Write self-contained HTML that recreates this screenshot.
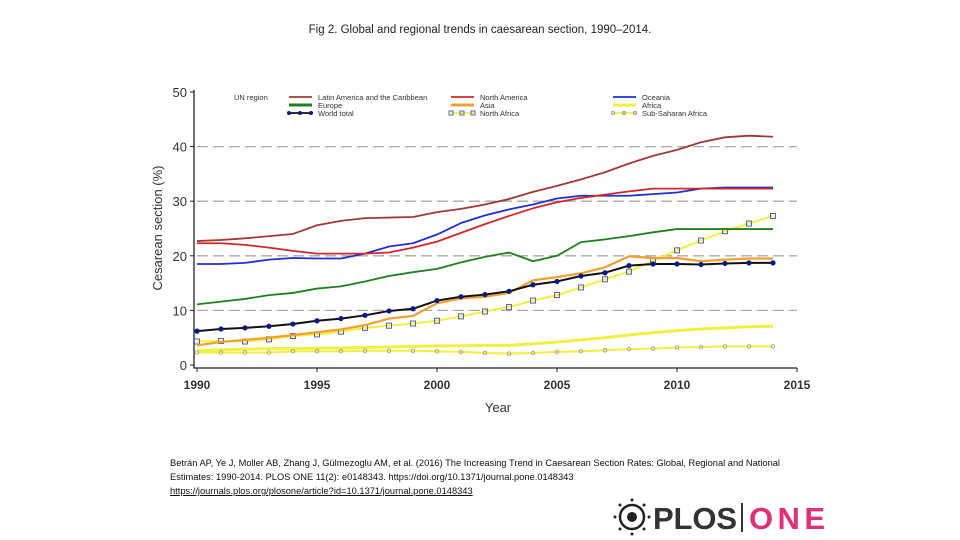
<!DOCTYPE html>
<html><head><meta charset="utf-8"><style>
body{margin:0;background:#fff;width:960px;height:540px;overflow:hidden;font-family:"Liberation Sans",sans-serif}
#title{position:absolute;left:0;width:960px;top:24px;text-align:center;font-size:11.5px;color:#222}
#cite{position:absolute;left:170px;top:456px;font-size:9.3px;line-height:14px;color:#111;width:640px}
#cite a{color:#111;text-decoration:underline}
</style></head><body>
<div id="title">Fig 2. Global and regional trends in caesarean section, 1990–2014.</div>
<svg id="chart" width="960" height="540" style="position:absolute;left:0;top:0"></svg>
<div id="cite">Betrán AP, Ye J, Moller AB, Zhang J, Gülmezoglu AM, et al. (2016) The Increasing Trend in Caesarean Section Rates: Global, Regional and National Estimates: 1990-2014. PLOS ONE 11(2): e0148343. https://doi.org/10.1371/journal.pone.0148343<br><a>https://journals.plos.org/plosone/article?id=10.1371/journal.pone.0148343</a></div>
<script>
const years=[1990,1991,1992,1993,1994,1995,1996,1997,1998,1999,2000,2001,2002,2003,2004,2005,2006,2007,2008,2009,2010,2011,2012,2013,2014];
const latam=[22.7,22.9,23.2,23.6,24,25.6,26.4,26.9,27,27.1,28,28.6,29.4,30.4,31.7,32.8,34,35.3,36.9,38.3,39.4,40.8,41.7,42,41.8];
const northAmerica=[22.3,22.3,22,21.5,20.9,20.4,20.4,20.4,20.6,21.5,22.6,24.2,25.8,27.3,28.7,29.8,30.6,31.2,31.8,32.3,32.3,32.3,32.3,32.3,32.3];
const oceania=[18.5,18.5,18.7,19.3,19.6,19.5,19.5,20.4,21.7,22.3,23.9,26,27.4,28.5,29.4,30.5,31,31,31,31.3,31.6,32.3,32.5,32.5,32.5];
const europe=[11.1,11.6,12.1,12.8,13.2,14,14.4,15.3,16.3,17,17.6,18.8,19.8,20.6,19,20,22.5,23,23.6,24.3,24.9,24.9,24.9,24.9,24.9];
const asia=[3.6,4.2,4.6,5,5.5,6,6.5,7.3,8.5,9,11.3,12.2,12.5,13.2,15.5,16.1,16.8,17.9,19.9,19.6,19.6,19,19.3,19.5,19.5];
const world=[6.2,6.6,6.8,7.1,7.5,8.1,8.5,9.1,9.9,10.3,11.8,12.5,12.9,13.5,14.7,15.3,16.3,16.9,18.2,18.5,18.5,18.4,18.6,18.7,18.7];
const northAfrica=[4.3,4.4,4.3,4.7,5.3,5.6,6.1,6.8,7.2,7.6,8.1,8.9,9.8,10.6,11.8,12.8,14.2,15.7,17.1,19.1,21,22.8,24.5,25.9,27.3];
const africa=[2.6,2.8,2.9,3,3,3.1,3.1,3.2,3.3,3.4,3.5,3.5,3.6,3.6,3.9,4.2,4.6,5,5.5,5.9,6.3,6.6,6.8,7,7.1];
const ssa=[2.3,2.3,2.3,2.3,2.5,2.5,2.5,2.6,2.6,2.6,2.5,2.4,2.2,2.1,2.2,2.4,2.5,2.7,2.9,3,3.2,3.3,3.4,3.4,3.4];
const yTicks=[0,10,20,30,40,50];
const xTicks=[1990,1995,2000,2005,2010,2015];

const svg=document.getElementById('chart');
const NS='http://www.w3.org/2000/svg';
const X=v=>197+(v-1990)*24;
const Y=v=>365-v*5.46;
function mk(tag,attrs,parent){const e=document.createElementNS(NS,tag);for(const k in attrs)e.setAttribute(k,attrs[k]);(parent||svg).appendChild(e);return e;}

yTicks.forEach(t=>{
  if(t>0&&t<50){const g=mk('line',{x1:197,x2:797,y1:Y(t),y2:Y(t),stroke:'#aaa','stroke-width':1.3,'stroke-dasharray':'11,5'});
  
  }
  const l=mk('text',{x:187,y:Y(t)+5,'text-anchor':'end','font-size':13,fill:'#333'});l.textContent=t;
  
  
  mk('line',{x1:190,x2:194,y1:Y(t),y2:Y(t),stroke:'#222'});
});
xTicks.forEach(t=>{
  const l=mk('text',{x:X(t),y:389,'text-anchor':'middle','font-size':12,fill:'#333','font-weight':'bold'});l.textContent=t;
  
  
  mk('line',{x1:X(t),x2:X(t),y1:368,y2:372,stroke:'#222'});
});
const ax=mk('path',{d:'M194,90 V368 H797',fill:'none',stroke:'#222','stroke-width':1.3});


const yt=mk('text',{x:0,y:0,transform:'translate(162,228) rotate(-90)','text-anchor':'middle','font-size':13,fill:'#333'});yt.textContent='Cesarean section (%)';


const xt=mk('text',{x:498,y:412,'text-anchor':'middle','font-size':13,fill:'#333'});xt.textContent='Year';



function series(vals,color,w,name,marker){
  const p=mk('polyline',{points:vals.map((v,i)=>X(years[i])+','+Y(v)).join(' '),fill:'none',stroke:color,'stroke-width':w,'stroke-linejoin':'round'});
  
  
  if(marker) vals.forEach((v,i)=>{
    let m;
    if(marker==='dot') m=mk('circle',{cx:X(years[i]),cy:Y(v),r:2.6,fill:'#0a1a80'});
    else if(marker==='sq') m=mk('rect',{x:X(years[i])-2.5,y:Y(v)-2.5,width:5,height:5,fill:'none',stroke:'#5560b0','stroke-width':1});
    else m=mk('circle',{cx:X(years[i]),cy:Y(v),r:1.8,fill:'none',stroke:'#999','stroke-width':0.8});
    
    
  });
}
series(africa,'#f0f040',3,'africa');
series(ssa,'#f0f040',2,'sub-saharan-africa','o');
series(northAfrica,'#f0f040',2,'north-africa','sq');
series(asia,'#f0a030',2.2,'asia');
series(world,'#111',2,'world-total','dot');
series(europe,'#208020',1.8,'europe');
series(oceania,'#2030d0',1.8,'oceania');
series(northAmerica,'#d02828',1.8,'north-america');
series(latam,'#a03838',1.8,'latin-america');

const ut=mk('text',{x:234,y:100,'font-size':7.5,fill:'#333'});ut.textContent='UN region';


const leg=[['Latin America and the Caribbean','#a03838',289,97],['North America','#d02828',451,97],['Oceania','#2030d0',613,97],
['Europe','#208020',289,105],['Asia','#f0a030',451,105],['Africa','#f0f040',613,105],
['World total','#111',289,113],['North Africa','#f0f040',451,113],['Sub-Saharan Africa','#f0f040',613,113]];
leg.forEach(([n,c,x,y])=>{
  const g=mk('g',{});
  
  
  mk('line',{x1:x,x2:x+23,y1:y,y2:y,stroke:c,'stroke-width':(n==='Europe'||n==='Asia'||n==='Africa')?3:1.8},g);
  if(n==='World total')[x,x+11,x+22].forEach(cx=>mk('circle',{cx:cx,cy:y,r:2,fill:'#0a1a80'},g));
  if(n==='North Africa')[x,x+11,x+22].forEach(cx=>mk('rect',{x:cx-2,y:y-2,width:4,height:4,fill:'none',stroke:'#5560b0'},g));
  if(n==='Sub-Saharan Africa')[x,x+11,x+22].forEach(cx=>mk('circle',{cx:cx,cy:y,r:1.5,fill:'none',stroke:'#999'},g));
  const t=mk('text',{x:x+29,y:y+3,'font-size':7.5,fill:'#333'},g);t.textContent=n;
});

const lg=mk('g',{});


mk('circle',{cx:632,cy:517,r:12,fill:'none',stroke:'#222','stroke-width':2.5},lg);
mk('circle',{cx:632,cy:517,r:5,fill:'#222'},lg);
[0,45,90,135,180,225,270,315].forEach(a=>{const r=a*Math.PI/180;mk('circle',{cx:632+17*Math.cos(r),cy:517+17*Math.sin(r),r:1.5,fill:'#222'},lg);});
const pt=mk('text',{x:653,y:529,'font-size':31,'font-weight':'bold',fill:'#333',textLength:84},lg);pt.textContent='PLOS';
mk('line',{x1:742,x2:742,y1:503,y2:532,stroke:'#333','stroke-width':2},lg);
const ot=mk('text',{x:749,y:529,'font-size':31,'font-weight':'bold',fill:'#e0307a',textLength:76},lg);ot.textContent='ONE';
</script>
</body></html>
